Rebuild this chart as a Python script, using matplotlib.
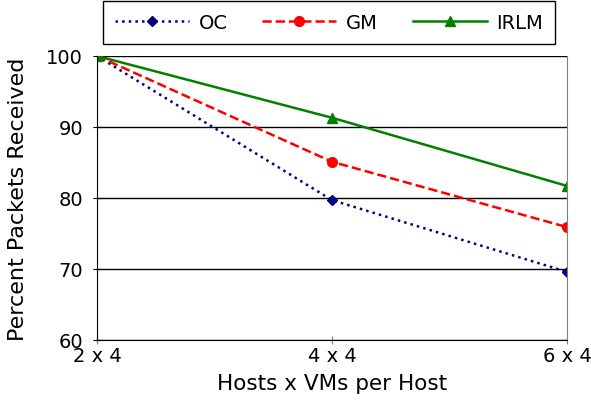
import matplotlib
matplotlib.use("Agg")
import matplotlib.pyplot as plt

configs = ['2 x 4', '4 x 4', '6 x 4']
oc = [100, 79.7, 69.6]
gm = [100, 85.1, 75.9]
irlm = [100, 91.3, 81.7]

fig = plt.figure(figsize=(5.91, 4.02), dpi=100)
ax = fig.add_axes([97/591, 1 - 341/402, 470/591, 284/402])

x = range(len(configs))
ax.plot(x, oc, color='navy', linestyle=':', marker='D', markersize=5, lw=1.8, label='OC')
ax.plot(x, gm, color='red', linestyle='--', marker='o', markersize=7, lw=1.8, label='GM')
ax.plot(x, irlm, color='green', linestyle='-', marker='^', markersize=7, lw=1.8, label='IRLM')

ax.set_xlim(0, 2)
ax.set_ylim(60, 100)
ax.set_xticks(list(x))
ax.set_xticklabels(configs, fontsize=14)
ax.set_yticks([60, 70, 80, 90, 100])
ax.tick_params(axis='y', labelsize=14, direction='inout', length=6, pad=7)
ax.tick_params(axis='x', direction='inout', length=6, pad=1, color='gray')
ax.yaxis.grid(True, color='black', lw=1)
ax.set_axisbelow(True)
ax.spines['top'].set_visible(False)
ax.spines['right'].set_color('gray')
ax.spines['left'].set_color('black')
ax.spines['bottom'].set_color('black')

ax.set_xlabel('Hosts x VMs per Host', fontsize=15.5, labelpad=6)
ax.set_ylabel('Percent Packets Received', fontsize=16, labelpad=13)

leg = ax.legend(loc='center', bbox_to_anchor=(329/591, 1 - 23.5/402), bbox_transform=fig.transFigure,
                ncol=3, fontsize=14, fancybox=False, framealpha=1, edgecolor='black',
                handlelength=3.8, handletextpad=0.5, columnspacing=1.8, borderpad=0.6)
leg.get_frame().set_linewidth(1)

fig.savefig('out.png', dpi=100)
